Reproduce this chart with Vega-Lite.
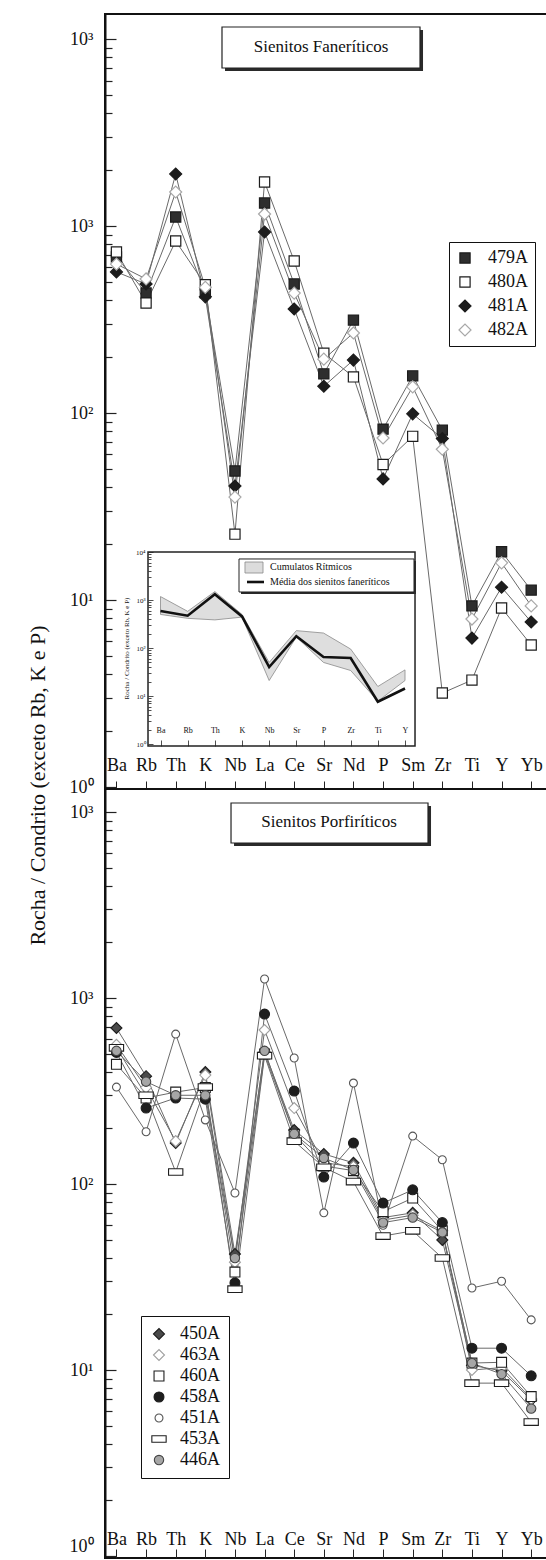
{
  "$schema": "https://vega.github.io/schema/vega-lite/v6.json",
  "background": "white",
  "padding": {"left": 24, "top": 13, "right": 0, "bottom": 0},
  "spacing": 0,
  "bounds": "flush",
  "resolve": {"scale": {"shape": "independent", "fill": "independent", "stroke": "independent"}, "legend": {"shape": "independent", "fill": "independent", "stroke": "independent"}},
  "config": {
    "font": "Liberation Serif",
    "view": {"stroke": "#111", "strokeWidth": 2},
    "axis": {"grid": false, "labelColor": "#111", "tickColor": "#222", "domainColor": "#111", "titleColor": "#111", "titleFontWeight": "normal"},
    "legend": {"labelFont": "Liberation Serif", "labelColor": "#111"}
  },
  "datasets": {
    "top": [
      {"sample": "479A", "el": "Ba", "v": 683}, {"sample": "479A", "el": "Rb", "v": 438}, {"sample": "479A", "el": "Th", "v": 1117}, {"sample": "479A", "el": "K", "v": 440}, {"sample": "479A", "el": "Nb", "v": 49}, {"sample": "479A", "el": "La", "v": 1327}, {"sample": "479A", "el": "Ce", "v": 490}, {"sample": "479A", "el": "Sr", "v": 162}, {"sample": "479A", "el": "Nd", "v": 314}, {"sample": "479A", "el": "P", "v": 82}, {"sample": "479A", "el": "Sm", "v": 158}, {"sample": "479A", "el": "Zr", "v": 81}, {"sample": "479A", "el": "Ti", "v": 9.3}, {"sample": "479A", "el": "Y", "v": 18.1}, {"sample": "479A", "el": "Yb", "v": 11.3},
      {"sample": "480A", "el": "Ba", "v": 726}, {"sample": "480A", "el": "Rb", "v": 387}, {"sample": "480A", "el": "Th", "v": 831}, {"sample": "480A", "el": "K", "v": 485}, {"sample": "480A", "el": "Nb", "v": 22.5}, {"sample": "480A", "el": "La", "v": 1718}, {"sample": "480A", "el": "Ce", "v": 650}, {"sample": "480A", "el": "Sr", "v": 209}, {"sample": "480A", "el": "Nd", "v": 156}, {"sample": "480A", "el": "P", "v": 53}, {"sample": "480A", "el": "Sm", "v": 75}, {"sample": "480A", "el": "Zr", "v": 3.18}, {"sample": "480A", "el": "Ti", "v": 3.73}, {"sample": "480A", "el": "Y", "v": 9.06}, {"sample": "480A", "el": "Yb", "v": 5.75},
      {"sample": "481A", "el": "Ba", "v": 568}, {"sample": "481A", "el": "Rb", "v": 490}, {"sample": "481A", "el": "Th", "v": 1897}, {"sample": "481A", "el": "K", "v": 418}, {"sample": "481A", "el": "Nb", "v": 40.7}, {"sample": "481A", "el": "La", "v": 929}, {"sample": "481A", "el": "Ce", "v": 360}, {"sample": "481A", "el": "Sr", "v": 139}, {"sample": "481A", "el": "Nd", "v": 192}, {"sample": "481A", "el": "P", "v": 44.4}, {"sample": "481A", "el": "Sm", "v": 99}, {"sample": "481A", "el": "Zr", "v": 73}, {"sample": "481A", "el": "Ti", "v": 6.26}, {"sample": "481A", "el": "Y", "v": 11.7}, {"sample": "481A", "el": "Yb", "v": 7.63},
      {"sample": "482A", "el": "Ba", "v": 626}, {"sample": "482A", "el": "Rb", "v": 521}, {"sample": "482A", "el": "Th", "v": 1520}, {"sample": "482A", "el": "K", "v": 470}, {"sample": "482A", "el": "Nb", "v": 35.5}, {"sample": "482A", "el": "La", "v": 1159}, {"sample": "482A", "el": "Ce", "v": 438}, {"sample": "482A", "el": "Sr", "v": 194}, {"sample": "482A", "el": "Nd", "v": 268}, {"sample": "482A", "el": "P", "v": 73.5}, {"sample": "482A", "el": "Sm", "v": 138}, {"sample": "482A", "el": "Zr", "v": 64}, {"sample": "482A", "el": "Ti", "v": 7.91}, {"sample": "482A", "el": "Y", "v": 15.8}, {"sample": "482A", "el": "Yb", "v": 9.3}
    ],
    "bot": [
      {"sample": "450A", "el": "Ba", "v": 690}, {"sample": "450A", "el": "Rb", "v": 380}, {"sample": "450A", "el": "Th", "v": 166}, {"sample": "450A", "el": "K", "v": 400}, {"sample": "450A", "el": "Nb", "v": 42}, {"sample": "450A", "el": "La", "v": 513}, {"sample": "450A", "el": "Ce", "v": 195}, {"sample": "450A", "el": "Sr", "v": 145}, {"sample": "450A", "el": "Nd", "v": 130}, {"sample": "450A", "el": "P", "v": 66}, {"sample": "450A", "el": "Sm", "v": 70}, {"sample": "450A", "el": "Zr", "v": 50}, {"sample": "450A", "el": "Ti", "v": 10.6}, {"sample": "450A", "el": "Y", "v": 9.9}, {"sample": "450A", "el": "Yb", "v": 6.9},
      {"sample": "463A", "el": "Ba", "v": 560}, {"sample": "463A", "el": "Rb", "v": 330}, {"sample": "463A", "el": "Th", "v": 170}, {"sample": "463A", "el": "K", "v": 385}, {"sample": "463A", "el": "Nb", "v": 38}, {"sample": "463A", "el": "La", "v": 673}, {"sample": "463A", "el": "Ce", "v": 256}, {"sample": "463A", "el": "Sr", "v": 130}, {"sample": "463A", "el": "Nd", "v": 124}, {"sample": "463A", "el": "P", "v": 64}, {"sample": "463A", "el": "Sm", "v": 68}, {"sample": "463A", "el": "Zr", "v": 56}, {"sample": "463A", "el": "Ti", "v": 10}, {"sample": "463A", "el": "Y", "v": 10.3}, {"sample": "463A", "el": "Yb", "v": 7.0},
      {"sample": "460A", "el": "Ba", "v": 440}, {"sample": "460A", "el": "Rb", "v": 290}, {"sample": "460A", "el": "Th", "v": 312}, {"sample": "460A", "el": "K", "v": 330}, {"sample": "460A", "el": "Nb", "v": 33.6}, {"sample": "460A", "el": "La", "v": 500}, {"sample": "460A", "el": "Ce", "v": 185}, {"sample": "460A", "el": "Sr", "v": 125}, {"sample": "460A", "el": "Nd", "v": 118}, {"sample": "460A", "el": "P", "v": 71}, {"sample": "460A", "el": "Sm", "v": 84}, {"sample": "460A", "el": "Zr", "v": 56}, {"sample": "460A", "el": "Ti", "v": 10.9}, {"sample": "460A", "el": "Y", "v": 11}, {"sample": "460A", "el": "Yb", "v": 7.2},
      {"sample": "458A", "el": "Ba", "v": 510}, {"sample": "458A", "el": "Rb", "v": 256}, {"sample": "458A", "el": "Th", "v": 290}, {"sample": "458A", "el": "K", "v": 286}, {"sample": "458A", "el": "Nb", "v": 29.4}, {"sample": "458A", "el": "La", "v": 820}, {"sample": "458A", "el": "Ce", "v": 316}, {"sample": "458A", "el": "Sr", "v": 109}, {"sample": "458A", "el": "Nd", "v": 166}, {"sample": "458A", "el": "P", "v": 79}, {"sample": "458A", "el": "Sm", "v": 93}, {"sample": "458A", "el": "Zr", "v": 62}, {"sample": "458A", "el": "Ti", "v": 13.1}, {"sample": "458A", "el": "Y", "v": 13.1}, {"sample": "458A", "el": "Yb", "v": 9.3},
      {"sample": "451A", "el": "Ba", "v": 332}, {"sample": "451A", "el": "Rb", "v": 191}, {"sample": "451A", "el": "Th", "v": 640}, {"sample": "451A", "el": "K", "v": 221}, {"sample": "451A", "el": "Nb", "v": 89.5}, {"sample": "451A", "el": "La", "v": 1265}, {"sample": "451A", "el": "Ce", "v": 476}, {"sample": "451A", "el": "Sr", "v": 70}, {"sample": "451A", "el": "Nd", "v": 349}, {"sample": "451A", "el": "P", "v": 60}, {"sample": "451A", "el": "Sm", "v": 181}, {"sample": "451A", "el": "Zr", "v": 135}, {"sample": "451A", "el": "Ti", "v": 27.6}, {"sample": "451A", "el": "Y", "v": 30}, {"sample": "451A", "el": "Yb", "v": 18.6},
      {"sample": "453A", "el": "Ba", "v": 540}, {"sample": "453A", "el": "Rb", "v": 300}, {"sample": "453A", "el": "Th", "v": 116}, {"sample": "453A", "el": "K", "v": 332}, {"sample": "453A", "el": "Nb", "v": 27.2}, {"sample": "453A", "el": "La", "v": 490}, {"sample": "453A", "el": "Ce", "v": 170}, {"sample": "453A", "el": "Sr", "v": 123}, {"sample": "453A", "el": "Nd", "v": 103}, {"sample": "453A", "el": "P", "v": 52.5}, {"sample": "453A", "el": "Sm", "v": 56}, {"sample": "453A", "el": "Zr", "v": 40}, {"sample": "453A", "el": "Ti", "v": 8.5}, {"sample": "453A", "el": "Y", "v": 8.5}, {"sample": "453A", "el": "Yb", "v": 5.25},
      {"sample": "446A", "el": "Ba", "v": 520}, {"sample": "446A", "el": "Rb", "v": 355}, {"sample": "446A", "el": "Th", "v": 300}, {"sample": "446A", "el": "K", "v": 300}, {"sample": "446A", "el": "Nb", "v": 40}, {"sample": "446A", "el": "La", "v": 520}, {"sample": "446A", "el": "Ce", "v": 186}, {"sample": "446A", "el": "Sr", "v": 138}, {"sample": "446A", "el": "Nd", "v": 119}, {"sample": "446A", "el": "P", "v": 62}, {"sample": "446A", "el": "Sm", "v": 66}, {"sample": "446A", "el": "Zr", "v": 55}, {"sample": "446A", "el": "Ti", "v": 10.9}, {"sample": "446A", "el": "Y", "v": 9.5}, {"sample": "446A", "el": "Yb", "v": 6.2}
    ],
    "inset": [
      {"el": "Ba", "lo": 500, "hi": 1180, "media": 590},
      {"el": "Rb", "lo": 415, "hi": 580, "media": 470},
      {"el": "Th", "lo": 385, "hi": 1500, "media": 1320},
      {"el": "K", "lo": 440, "hi": 500, "media": 455},
      {"el": "Nb", "lo": 21, "hi": 50, "media": 40},
      {"el": "Sr", "lo": 169, "hi": 230, "media": 176},
      {"el": "P", "lo": 50, "hi": 205, "media": 65},
      {"el": "Zr", "lo": 34, "hi": 95, "media": 62},
      {"el": "Ti", "lo": 7.8, "hi": 15.8, "media": 7.6},
      {"el": "Y", "lo": 21, "hi": 35, "media": 14.3}
    ]
  },
  "vconcat": [
    {
      "width": 442,
      "height": 775,
      "resolve": {"scale": {"x": "independent", "y": "independent"}, "axis": {"x": "independent", "y": "independent"}},
      "layer": [
        {
          "data": {"name": "top"},
          "encoding": {
            "x": {"field": "el", "type": "ordinal", "scale": {"type": "point", "domain": ["Ba", "Rb", "Th", "K", "Nb", "La", "Ce", "Sr", "Nd", "P", "Sm", "Zr", "Ti", "Y", "Yb"], "padding": 0.46, "align": 0.42},
              "axis": {"title": null, "domain": false, "tickSize": -8, "tickWidth": 1, "labelFontSize": 18, "labelPadding": -25, "labelAngle": 0}},
            "y": {"field": "v", "type": "quantitative", "scale": {"type": "log", "domain": [0.9757, 13608], "nice": false},
              "axis": {"title": null, "values": [1, 2, 3, 4, 5, 6, 7, 8, 9, 10, 20, 30, 40, 50, 60, 70, 80, 90, 100, 200, 300, 400, 500, 600, 700, 800, 900, 1000, 2000, 3000, 4000, 5000, 6000, 7000, 8000, 9000, 10000],
                "labelExpr": "datum.value == 1 ? '10⁰' : datum.value == 10 ? '10¹' : datum.value == 100 ? '10²' : (datum.value == 1000 || datum.value == 10000) ? '10³' : ''",
                "tickSize": {"condition": {"test": "datum.value == 1 || datum.value == 10 || datum.value == 100 || datum.value == 1000 || datum.value == 10000", "value": -11}, "value": -7},
                "tickWidth": 1.2, "domainWidth": 2, "labelFontSize": 18, "labelPadding": 23, "labelOverlap": false, "labelBound": false, "labelFlush": false}}
          },
          "layer": [
            {"mark": {"type": "line", "color": "#6a6a6a", "strokeWidth": 1}, "encoding": {"detail": {"field": "sample"}, "order": {"value": null}}},
            {"mark": {"type": "point", "filled": true, "size": 144, "strokeWidth": 1.2, "opacity": 1},
              "encoding": {
                "shape": {"field": "sample", "type": "nominal", "scale": {"domain": ["479A", "480A", "481A", "482A"], "range": ["M-0.85,-0.85L0.85,-0.85L0.85,0.85L-0.85,0.85Z", "M-0.85,-0.85L0.85,-0.85L0.85,0.85L-0.85,0.85Z", "diamond", "diamond"]},
                  "legend": {"title": null, "orient": "none", "legendX": 344, "legendY": 228, "strokeColor": "#111", "fillColor": "white", "padding": 7, "labelFontSize": 18, "rowPadding": 6, "symbolSize": 144, "symbolStrokeWidth": 1.2, "labelOffset": 14}},
                "fill": {"field": "sample", "type": "nominal", "scale": {"domain": ["479A", "480A", "481A", "482A"], "range": ["#2e2e2e", "#ffffff", "#1c1c1c", "#ffffff"]}},
                "stroke": {"field": "sample", "type": "nominal", "scale": {"domain": ["479A", "480A", "481A", "482A"], "range": ["#1c1c1c", "#1c1c1c", "#1c1c1c", "#a8a8a8"]}}
              }}
          ]
        },
        {
          "data": {"values": [{}]},
          "layer": [
            {"mark": {"type": "rect", "fill": "#2a2a2a"}, "encoding": {"x": {"datum": 0.2715, "type": "quantitative", "scale": {"domain": [0, 1], "nice": false, "zero": false}, "axis": null}, "x2": {"datum": 0.7195}, "y": {"datum": 0.0206, "type": "quantitative", "scale": {"domain": [0, 1], "nice": false, "zero": false, "reverse": true}, "axis": null}, "y2": {"datum": 0.0735}}},
            {"mark": {"type": "rect", "fill": "white", "stroke": "#222", "strokeWidth": 1.2}, "encoding": {"x": {"datum": 0.2647, "type": "quantitative"}, "x2": {"datum": 0.7127}, "y": {"datum": 0.0168, "type": "quantitative"}, "y2": {"datum": 0.0697}}},
            {"mark": {"type": "text", "text": "Sienitos Faneríticos", "fontSize": 17, "align": "center", "baseline": "middle", "color": "#111"}, "encoding": {"x": {"datum": 0.4887, "type": "quantitative"}, "y": {"datum": 0.0426, "type": "quantitative"}}},
            {"mark": {"type": "rect", "fill": "white", "stroke": "#222", "strokeWidth": 1.5}, "encoding": {"x": {"datum": 0.0973, "type": "quantitative"}, "x2": {"datum": 0.7014}, "y": {"datum": 0.6942, "type": "quantitative"}, "y2": {"datum": 0.9445}}},
            {"mark": {"type": "rect", "fill": "#2a2a2a"}, "encoding": {"x": {"datum": 0.3077, "type": "quantitative"}, "x2": {"datum": 0.7036}, "y": {"datum": 0.7058, "type": "quantitative"}, "y2": {"datum": 0.7484}}},
            {"mark": {"type": "rect", "fill": "white", "stroke": "#222", "strokeWidth": 1}, "encoding": {"x": {"datum": 0.3032, "type": "quantitative"}, "x2": {"datum": 0.6991}, "y": {"datum": 0.7032, "type": "quantitative"}, "y2": {"datum": 0.7458}}},
            {"mark": {"type": "rect", "fill": "#dcdcdc", "stroke": "#888", "strokeWidth": 0.8}, "encoding": {"x": {"datum": 0.3167, "type": "quantitative"}, "x2": {"datum": 0.3575}, "y": {"datum": 0.7071, "type": "quantitative"}, "y2": {"datum": 0.7213}}},
            {"mark": {"type": "rule", "color": "#111", "strokeWidth": 2.6}, "encoding": {"x": {"datum": 0.3213, "type": "quantitative"}, "x2": {"datum": 0.3597}, "y": {"datum": 0.7329, "type": "quantitative"}}},
            {"mark": {"type": "text", "text": "Cumulatos Rítmicos", "fontSize": 10, "align": "left", "baseline": "middle", "color": "#111"}, "encoding": {"x": {"datum": 0.3733, "type": "quantitative"}, "y": {"datum": 0.7135, "type": "quantitative"}}},
            {"mark": {"type": "text", "text": "Média dos sienitos faneríticos", "fontSize": 10, "align": "left", "baseline": "middle", "color": "#111"}, "encoding": {"x": {"datum": 0.3733, "type": "quantitative"}, "y": {"datum": 0.7329, "type": "quantitative"}}}
          ]
        },
        {
          "data": {"name": "inset"},
          "encoding": {
            "x": {"field": "el", "type": "ordinal", "scale": {"type": "point", "domain": ["Ba", "Rb", "Th", "K", "Nb", "Sr", "P", "Zr", "Ti", "Y"], "range": [55.5, 300], "padding": 0},
              "axis": {"title": null, "orient": "bottom", "offset": -43, "domain": false, "tickSize": -6, "tickWidth": 0.8, "labelFontSize": 8, "labelPadding": -14, "labelAngle": 0, "zindex": 2}}
          },
          "layer": [
            {"mark": {"type": "area", "fill": "#dedede", "stroke": "#8a8a8a", "strokeWidth": 0.8},
              "encoding": {
                "y": {"field": "lo", "type": "quantitative", "scale": {"type": "log", "domain": [1, 10000], "range": [730, 538], "nice": false},
                  "axis": {"title": "Rocha / Condrito (exceto Rb, K e P)", "orient": "left", "offset": -43, "domain": false, "zindex": 2,
                    "values": [1, 2, 3, 4, 5, 6, 7, 8, 9, 10, 20, 30, 40, 50, 60, 70, 80, 90, 100, 200, 300, 400, 500, 600, 700, 800, 900, 1000, 2000, 3000, 4000, 5000, 6000, 7000, 8000, 9000, 10000],
                    "labelExpr": "datum.value == 1 ? '10⁰' : datum.value == 10 ? '10¹' : datum.value == 100 ? '10²' : datum.value == 1000 ? '10³' : datum.value == 10000 ? '10⁴' : ''",
                    "tickSize": {"condition": {"test": "datum.value == 1 || datum.value == 10 || datum.value == 100 || datum.value == 1000 || datum.value == 10000", "value": -5}, "value": -3},
                    "tickWidth": 0.8, "labelFontSize": 7, "labelPadding": 8, "labelOverlap": false, "labelBound": false, "labelFlush": false,
                    "titleFontSize": 7, "titleX": -22, "titleY": 634, "titleAngle": 270, "titleAlign": "center", "titleBaseline": "middle"}},
                "y2": {"field": "hi"},
                "order": {"value": null}
              }},
            {"mark": {"type": "line", "color": "#111", "strokeWidth": 2.6},
              "encoding": {"y": {"field": "media", "type": "quantitative"}, "order": {"value": null}}}
          ]
        }
      ]
    },
    {
      "width": 442,
      "height": 769,
      "resolve": {"scale": {"x": "independent", "y": "independent"}, "axis": {"x": "independent", "y": "independent"}},
      "layer": [
        {
          "data": {"name": "bot"},
          "encoding": {
            "x": {"field": "el", "type": "ordinal", "scale": {"type": "point", "domain": ["Ba", "Rb", "Th", "K", "Nb", "La", "Ce", "Sr", "Nd", "P", "Sm", "Zr", "Ti", "Y", "Yb"], "padding": 0.46, "align": 0.42},
              "axis": {"title": null, "domain": false, "tickSize": -9, "tickWidth": 1, "labelFontSize": 18, "labelPadding": -19, "labelAngle": 0}},
            "y": {"field": "v", "type": "quantitative", "scale": {"type": "log", "domain": [0.9755, 13298], "nice": false},
              "axis": {"title": "Rocha / Condrito (exceto Rb, K e P)", "values": [1, 2, 3, 4, 5, 6, 7, 8, 9, 10, 20, 30, 40, 50, 60, 70, 80, 90, 100, 200, 300, 400, 500, 600, 700, 800, 900, 1000, 2000, 3000, 4000, 5000, 6000, 7000, 8000, 9000, 10000],
                "labelExpr": "datum.value == 1 ? '10⁰' : datum.value == 10 ? '10¹' : datum.value == 100 ? '10²' : (datum.value == 1000 || datum.value == 10000) ? '10³' : ''",
                "labelBaseline": {"condition": {"test": "datum.value == 1", "value": "bottom"}, "value": "middle"},
                "tickSize": {"condition": {"test": "datum.value == 1 || datum.value == 10 || datum.value == 100 || datum.value == 1000 || datum.value == 10000", "value": -11}, "value": -7},
                "tickWidth": 1.2, "domainWidth": 2, "labelFontSize": 18, "labelPadding": 23, "labelOverlap": false, "labelBound": false, "labelFlush": false,
                "titleFontSize": 22, "titleX": -68, "titleY": -4, "titleAngle": 270, "titleAlign": "center", "titleBaseline": "middle"}}
          },
          "layer": [
            {"mark": {"type": "line", "color": "#6a6a6a", "strokeWidth": 1}, "encoding": {"detail": {"field": "sample"}, "order": {"value": null}}},
            {"mark": {"type": "point", "filled": true, "size": 121, "strokeWidth": 1.1, "opacity": 1},
              "encoding": {
                "shape": {"field": "sample", "type": "nominal", "scale": {"domain": ["450A", "463A", "460A", "458A", "451A", "453A", "446A"], "range": ["diamond", "diamond", "M-0.9,-0.9L0.9,-0.9L0.9,0.9L-0.9,0.9Z", "M-0.9,0A0.9,0.9,0,1,1,0.9,0A0.9,0.9,0,1,1,-0.9,0Z", "M-0.72,0A0.72,0.72,0,1,1,0.72,0A0.72,0.72,0,1,1,-0.72,0Z", "M-1.3,-0.6L1.3,-0.6L1.3,0.6L-1.3,0.6Z", "M-0.85,0A0.85,0.85,0,1,1,0.85,0A0.85,0.85,0,1,1,-0.85,0Z"]},
                  "legend": {"title": null, "orient": "none", "legendX": 36, "legendY": 527, "strokeColor": "#111", "fillColor": "white", "padding": 9, "labelFontSize": 18, "rowPadding": 3, "symbolSize": 121, "symbolStrokeWidth": 1.1, "labelOffset": 12}},
                "fill": {"field": "sample", "type": "nominal", "scale": {"domain": ["450A", "463A", "460A", "458A", "451A", "453A", "446A"], "range": ["#4a4a4a", "#ffffff", "#ffffff", "#1e1e1e", "#ffffff", "#ffffff", "#a6a6a6"]}},
                "stroke": {"field": "sample", "type": "nominal", "scale": {"domain": ["450A", "463A", "460A", "458A", "451A", "453A", "446A"], "range": ["#1e1e1e", "#a0a0a0", "#1e1e1e", "#1e1e1e", "#555555", "#1e1e1e", "#444444"]}}
              }}
          ]
        },
        {
          "data": {"values": [{}]},
          "layer": [
            {"mark": {"type": "rect", "fill": "#2a2a2a"}, "encoding": {"x": {"datum": 0.2919, "type": "quantitative", "scale": {"domain": [0, 1], "nice": false, "zero": false}, "axis": null}, "x2": {"datum": 0.7376}, "y": {"datum": 0.0221, "type": "quantitative", "scale": {"domain": [0, 1], "nice": false, "zero": false, "reverse": true}, "axis": null}, "y2": {"datum": 0.0741}}},
            {"mark": {"type": "rect", "fill": "white", "stroke": "#222", "strokeWidth": 1.2}, "encoding": {"x": {"datum": 0.2851, "type": "quantitative"}, "x2": {"datum": 0.7308}, "y": {"datum": 0.0182, "type": "quantitative"}, "y2": {"datum": 0.0702}}},
            {"mark": {"type": "text", "text": "Sienitos Porfiríticos", "fontSize": 17, "align": "center", "baseline": "middle", "color": "#111"}, "encoding": {"x": {"datum": 0.5068, "type": "quantitative"}, "y": {"datum": 0.0429, "type": "quantitative"}}}
          ]
        }
      ]
    }
  ]
}
